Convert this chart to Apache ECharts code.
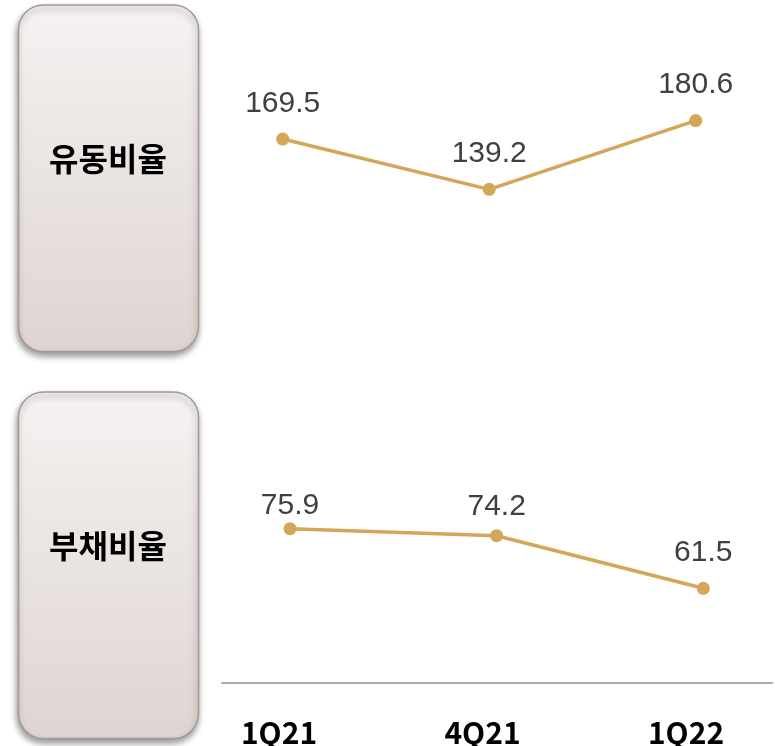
<!DOCTYPE html>
<html>
<head>
<meta charset="utf-8">
<script src="https://cdn.jsdelivr.net/npm/echarts@6/dist/echarts.min.js"></script>
<style>
html,body{margin:0;padding:0;background:#fff;}
#main{width:775px;height:746px;}
</style>
</head>
<body>
<div id="main"></div>
<script>
const categories = ['1Q21', '4Q21', '1Q22'];
const currentRatio = [169.5, 139.2, 180.6];
const debtRatio = [75.9, 74.2, 61.5];
const panelTitles = ['유동비율', '부채비율'];

const chart = echarts.init(document.getElementById('main'));
const gold = '#d3a658';

function toPoints(values, distances) {
  return values.map((v, i) => ({
    value: [i, v],
    label: { distance: distances[i] }
  }));
}

function box(y, h) {
  return {
    type: 'rect',
    shape: { x: 18.5, y: y, width: 180, height: h, r: 25 },
    style: {
      fill: new echarts.graphic.LinearGradient(0, 0, 0, 1, [
        { offset: 0, color: '#f5f2f1' },
        { offset: 1, color: '#ded5d2' }
      ]),
      stroke: '#a39894',
      lineWidth: 1.5,
      shadowBlur: 6,
      shadowOffsetX: -1,
      shadowOffsetY: 4,
      shadowColor: 'rgba(0,0,0,0.4)'
    }
  };
}

function title(text, y) {
  return {
    type: 'text',
    x: 108, y: y,
    style: {
      text: text,
      fill: '#000',
      font: 'bold 32px "Noto Sans CJK KR"',
      align: 'center',
      verticalAlign: 'middle'
    }
  };
}

const labelStyle = {
  show: true,
  position: 'top',
  color: '#404040',
  fontSize: 30,
  fontFamily: '"Liberation Sans", Arial, sans-serif'
};

const hiddenX = (min, max, idx) => ({
  type: 'value', gridIndex: idx, min: min, max: max,
  axisLine: { show: false }, axisTick: { show: false },
  axisLabel: { show: false }, splitLine: { show: false }
});
const hiddenY = (min, max, idx) => ({
  type: 'value', gridIndex: idx, min: min, max: max,
  axisLine: { show: false }, axisTick: { show: false },
  axisLabel: { show: false }, splitLine: { show: false }
});

chart.setOption({
  animation: false,
  backgroundColor: '#ffffff',
  graphic: [
    box(5, 346.5),
    box(392, 346.5),
    title(panelTitles[0], 159),
    title(panelTitles[1], 546)
  ],
  grid: [
    { left: 222, right: 3, top: 88.4, height: 166 },
    { left: 222, right: 3, top: 470.3, height: 207 },
    { left: 222, right: 3, top: 682, height: 1 }
  ],
  xAxis: [
    hiddenX(-0.294, 2.3695, 0),
    hiddenX(-0.329, 2.3325, 1),
    {
      type: 'value', gridIndex: 2, min: -0.280, max: 2.4226,
      axisLine: { show: true, lineStyle: { color: '#b3aaa7', width: 2 } },
      axisTick: { show: false },
      splitLine: { show: false },
      axisLabel: {
        show: true,
        customValues: [0, 1, 2],
        formatter: v => categories[Math.round(v)],
        margin: 35,
        color: '#000',
        fontSize: 30,
        fontWeight: 'bold',
        fontFamily: '"Noto Sans CJK KR", "Noto Sans", sans-serif'
      }
    }
  ],
  yAxis: [
    hiddenY(100, 200, 0),
    hiddenY(40, 90, 1),
    hiddenY(0, 1, 2)
  ],
  series: [
    {
      type: 'line', xAxisIndex: 0, yAxisIndex: 0,
      data: toPoints(currentRatio, [14, 14, 14]),
      symbol: 'circle', symbolSize: 13,
      lineStyle: { color: gold, width: 3.5 },
      itemStyle: { color: gold },
      label: labelStyle
    },
    {
      type: 'line', xAxisIndex: 1, yAxisIndex: 1,
      data: toPoints(debtRatio, [1, 7.5, 14]),
      symbol: 'circle', symbolSize: 13,
      lineStyle: { color: gold, width: 3.5 },
      itemStyle: { color: gold },
      label: labelStyle
    },
    {
      type: 'line', xAxisIndex: 2, yAxisIndex: 2, data: []
    }
  ]
});
</script>
</body>
</html>
